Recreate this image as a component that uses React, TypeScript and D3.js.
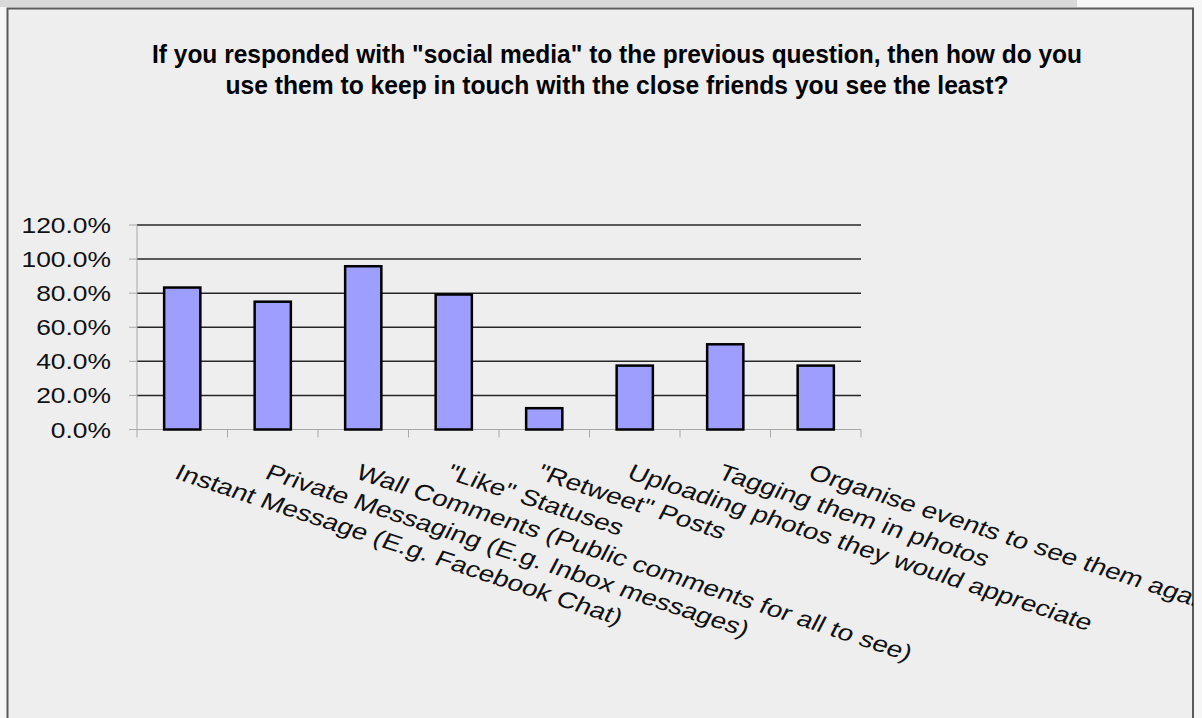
import React from 'react';
import * as d3 from 'd3';

const categories = [
  'Instant Message (E.g. Facebook Chat)',
  'Private Messaging (E.g. Inbox messages)',
  'Wall Comments (Public comments for all to see)',
  '"Like" Statuses',
  '"Retweet" Posts',
  'Uploading photos they would appreciate',
  'Tagging them in photos',
  'Organise events to see them again',
];
const values = [0.833, 0.75, 0.958, 0.792, 0.125, 0.375, 0.5, 0.375];
const yTicks = [0, 0.2, 0.4, 0.6, 0.8, 1.0, 1.2];
const titleLines = [
  'If you responded with "social media" to the previous question, then how do you',
  'use them to keep in touch with the close friends you see the least?',
];

const W = 1202;
const H = 718;
const plot = { left: 137, right: 861, top: 225, bottom: 429.5 };
const titleWidths = [930, 783];
const FONT = '"Liberation Sans", Arial, sans-serif';

export default function App() {
  const x = d3.scaleBand<string>().domain(categories).range([plot.left, plot.right]).padding(0);
  const y = d3.scaleLinear().domain([0, 1.2]).range([plot.bottom, plot.top]);
  const fmt = d3.format('.1%');
  const bw = x.bandwidth() * 0.4;
  const boundaries = d3.range(categories.length + 1).map((i) => plot.left + i * x.step());

  return (
    <svg width={W} height={H} style={{ position: 'absolute', left: 0, top: 0 }} fontFamily={FONT}>
      <defs>
        <clipPath id="frame">
          <rect x={8} y={9} width={1185} height={H} />
        </clipPath>
      </defs>
      <rect x={0} y={0} width={W} height={H} fill="#f6f6f6" />
      <rect x={0} y={0} width={1077} height={7} fill="#d9d9d9" />
      <rect x={7.5} y={8.5} width={1185.5} height={H + 10} fill="#eeeeee" stroke="#5a5a5a" strokeWidth={2} />
      <g clipPath="url(#frame)">
        {titleLines.map((t, i) => (
          <text
            key={i}
            x={617}
            y={63 + i * 31}
            textAnchor="middle"
            fontSize={25}
            fontWeight="bold"
            fill="#000"
            textLength={titleWidths[i]}
            lengthAdjust="spacingAndGlyphs"
          >
            {t}
          </text>
        ))}

        {yTicks.filter((t) => t > 0).map((t) => (
          <line key={t} x1={plot.left} x2={plot.right} y1={y(t)} y2={y(t)} stroke="#262626" strokeWidth={1.5} />
        ))}
        <line x1={plot.left} x2={plot.left} y1={plot.top} y2={plot.bottom} stroke="#a8a8a8" strokeWidth={1} />
        {yTicks.map((t) => (
          <g key={'yt' + t}>
            <line x1={plot.left - 8} x2={plot.left} y1={y(t)} y2={y(t)} stroke="#a8a8a8" strokeWidth={1} />
            <text
              transform={`translate(111, ${y(t) + 8}) scale(1.2,1)`}
              textAnchor="end"
              fontSize={22}
              fill="#111"
            >
              {fmt(t)}
            </text>
          </g>
        ))}
        <line x1={plot.left} x2={plot.right} y1={plot.bottom} y2={plot.bottom} stroke="#a8a8a8" strokeWidth={1} />
        {boundaries.map((bx, i) => (
          <line key={'xt' + i} x1={bx} x2={bx} y1={plot.bottom} y2={plot.bottom + 8} stroke="#a8a8a8" strokeWidth={1} />
        ))}

        {categories.map((c, i) => {
          const cx = (x(c) as number) + x.bandwidth() / 2;
          return (
            <rect
              key={c}
              x={cx - bw / 2}
              y={y(values[i])}
              width={bw}
              height={y(0) - y(values[i])}
              fill="#9e9eff"
              stroke="#000"
              strokeWidth={2.5}
            />
          );
        })}

        {categories.map((c) => {
          const cx = (x(c) as number) + x.bandwidth() / 2;
          return (
            <text
              key={'l' + c}
              transform={`translate(${cx - 9}, 478) scale(1.25,1) rotate(22.5)`}
              fontSize={22.5}
              fill="#111"
            >
              {c}
            </text>
          );
        })}
      </g>
    </svg>
  );
}
